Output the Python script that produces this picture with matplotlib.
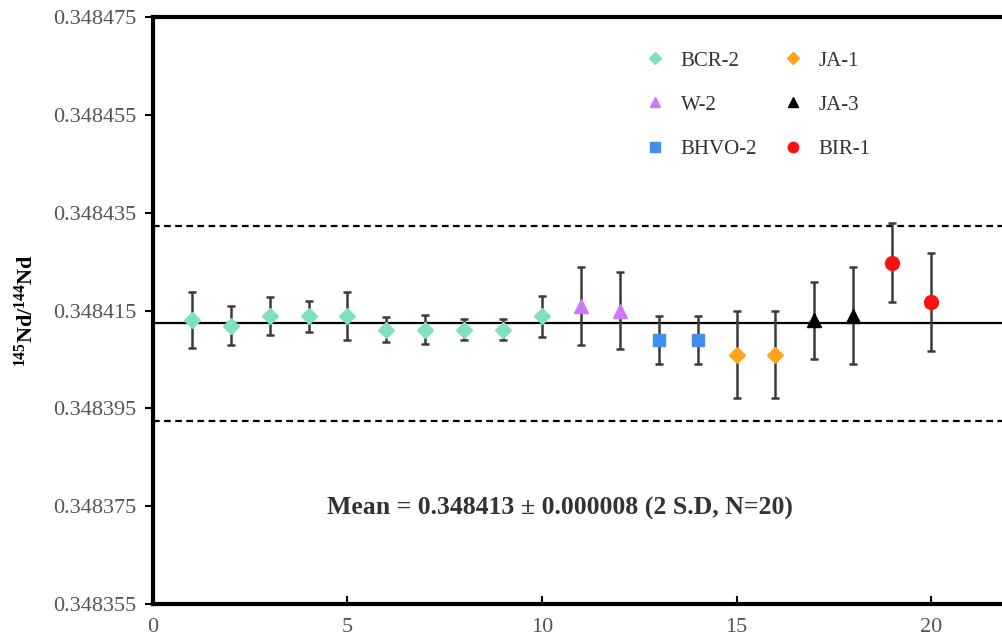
import numpy as np
import matplotlib.pyplot as plt
from matplotlib.lines import Line2D

plt.rcParams["font.family"] = ["Liberation Serif", "DejaVu Serif"]
plt.rcParams["mathtext.fontset"] = "custom"
plt.rcParams["mathtext.rm"] = "Liberation Serif"
plt.rcParams["mathtext.bf"] = "Liberation Serif:bold"

# sample groups: run number, 145Nd/144Nd, error (2SD)
bcr2_x = [1, 2, 3, 4, 5, 6, 7, 8, 9, 10]
bcr2_y = [0.3484130, 0.3484119, 0.3484138, 0.3484138, 0.3484138,
          0.3484111, 0.3484111, 0.3484111, 0.3484111, 0.3484138]
bcr2_e = [5.7e-6, 4.0e-6, 3.9e-6, 3.1e-6, 4.9e-6, 2.5e-6, 2.9e-6, 2.1e-6, 2.1e-6, 4.2e-6]

w2_x = [11, 12]
w2_y = [0.3484159, 0.3484150]
w2_e = [7.9e-6, 7.9e-6]

bhvo2_x = [13, 14]
bhvo2_y = [0.3484090, 0.3484090]
bhvo2_e = [4.9e-6, 4.9e-6]

ja1_x = [15, 16]
ja1_y = [0.3484060, 0.3484060]
ja1_e = [8.9e-6, 8.9e-6]

ja3_x = [17, 18]
ja3_y = [0.3484130, 0.3484139]
ja3_e = [7.9e-6, 9.9e-6]

bir1_x = [19, 20]
bir1_y = [0.3484248, 0.3484168]
bir1_e = [8.0e-6, 10.0e-6]

mean_val = 0.3484124
upper_val = 0.3484322
lower_val = 0.3483925

fig = plt.figure(figsize=(10.03, 6.44), dpi=100)
ax = fig.add_axes([0.1525, 0.0621, 0.8475, 0.9115])

ax.axhline(mean_val, color="black", lw=1.6, zorder=1)
ax.axhline(upper_val, color="black", lw=1.6, ls=(0, (3, 2)), zorder=1)
ax.axhline(lower_val, color="black", lw=1.6, ls=(0, (3, 2)), zorder=1)

groups = [
    (bcr2_x, bcr2_y, bcr2_e, "D", "#7fe0c4", 8, "BCR-2"),
    (w2_x, w2_y, w2_e, "^", "#cc77ff", 10, "W-2"),
    (bhvo2_x, bhvo2_y, bhvo2_e, "s", "#3f8ef0", 9, "BHVO-2"),
    (ja1_x, ja1_y, ja1_e, "D", "#ffa31a", 8, "JA-1"),
    (ja3_x, ja3_y, ja3_e, "^", "black", 10, "JA-3"),
    (bir1_x, bir1_y, bir1_e, "o", "#ff1010", 10, "BIR-1"),
]
handles = []
for x, y, e, m, c, s, lab in groups:
    ax.errorbar(x, y, yerr=e, fmt=m, color=c, ms=s, mec=c,
                ecolor="#3a3a3a", elinewidth=1.8, capsize=3, capthick=1.8, zorder=2)
    handles.append(Line2D([], [], marker=m, color=c, ls="none", ms=s * 0.75, label=lab))

ax.legend(handles=handles, ncol=2, loc="upper left", bbox_to_anchor=(0.556, 0.974),
          frameon=False, fontsize=15, labelcolor="#333333", handlelength=1.0,
          handletextpad=0.75, columnspacing=1.2, labelspacing=1.18)

ax.set_xlim(0, 21.85)
ax.set_ylim(0.348355, 0.348475)
ax.set_xticks([0, 5, 10, 15, 20])
ax.set_yticks(np.arange(0.348355, 0.3484751, 0.00002))
ax.yaxis.set_major_formatter(plt.FuncFormatter(lambda v, p: "%.6f" % v))

ax.spines["right"].set_visible(False)
ax.spines["left"].set_linewidth(3)
ax.spines["bottom"].set_linewidth(3)
ax.spines["top"].set_linewidth(3)
ax.tick_params(axis="y", direction="out", length=6, width=1.5, labelsize=16,
               labelcolor="#555555", pad=6)
ax.tick_params(axis="x", direction="in", length=6, width=1.5, labelsize=16,
               labelcolor="#555555", pad=10)

ax.set_ylabel(r"$\mathbf{^{145}Nd/^{144}Nd}$", fontsize=16, labelpad=11)
ax.text(10.45, 0.3483745, "Mean = 0.348413 \u00b1 0.000008 (2 S.D, N=20)",
        ha="center", va="center", fontsize=18.5, fontweight="bold", color="#333333")

fig.savefig("out.png", dpi=100)
